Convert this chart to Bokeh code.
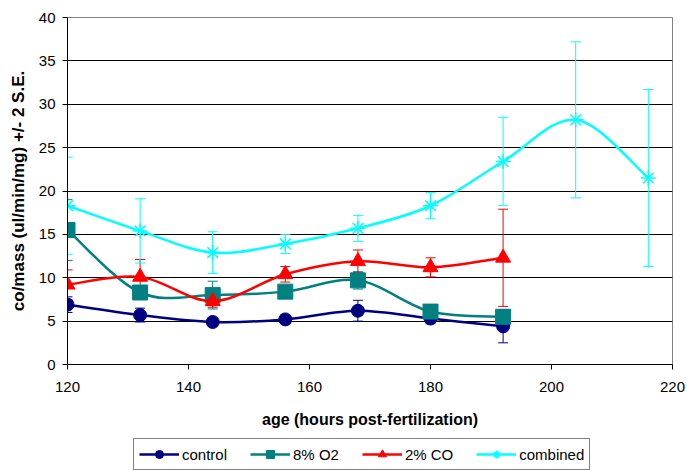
from bokeh.plotting import figure
from bokeh.layouts import column
from bokeh.models import (ColumnDataSource, Whisker, TeeHead, Legend, LegendItem,
                          FixedTicker, Range1d)
from bokeh.embed import file_html
from bokeh.resources import INLINE

# ---- data ----
hours = [120, 132, 144, 156, 168, 180, 192, 204, 216]

control = [6.9, 5.7, 4.9, 5.2, 6.2, 5.3, 4.4]
control_err = [0.9, 0.8, 0.4, 0.5, 1.2, 0.6, 1.9]

o2 = [15.5, 8.3, 8.0, 8.4, 9.7, 6.1, 5.5]
o2_err = [3.5, 0.6, 1.6, 0.6, 1.0, 0.5, 0.5]

co = [9.2, 10.1, 7.3, 10.4, 11.9, 11.2, 12.3]
co_err = [1.7, 2.0, 0.7, 0.9, 1.3, 1.1, 5.6]

combined = [18.3, 15.4, 12.9, 13.9, 15.7, 18.3, 23.4, 28.2, 21.5]
combined_err = [5.6, 3.7, 2.4, 1.1, 1.5, 1.5, 5.1, 9.0, 10.2]

series_names = ["control", "8% O2", "2% CO", "combined"]
series_colors = ["#000080", "#008080", "#FF0000", "#00FFFF"]
series_markers = ["circle", "square", "triangle", "asterisk"]
series_values = [control, o2, co, combined]
series_errs = [control_err, o2_err, co_err, combined_err]

x_ticks = [120, 140, 160, 180, 200, 220]
y_ticks = [0, 5, 10, 15, 20, 25, 30, 35, 40]

FONT = "Liberation Sans"
W = 687

p = figure(width=W, height=438, output_backend="svg", toolbar_location=None,
           x_range=Range1d(120, 220), y_range=Range1d(0, 40),
           min_border_left=67, min_border_right=15, min_border_top=17,
           min_border_bottom=74)

p.background_fill_color = "white"
p.border_fill_color = "white"
p.outline_line_color = "#808080"
p.outline_line_width = 1

p.xgrid.visible = False
p.ygrid.ticker = FixedTicker(ticks=y_ticks)
p.ygrid.grid_line_color = "#000000"
p.ygrid.grid_line_width = 1

p.xaxis.ticker = FixedTicker(ticks=x_ticks)
p.yaxis.ticker = FixedTicker(ticks=y_ticks)
for ax in (p.xaxis, p.yaxis):
    ax.axis_line_color = "black"
    ax.major_tick_line_color = "black"
    ax.major_tick_in = 0
    ax.major_tick_out = 5
    ax.minor_tick_line_color = None
    ax.major_label_text_font = FONT
    ax.major_label_text_font_size = "15px"
    ax.major_label_text_color = "black"
    ax.axis_label_text_font = FONT
    ax.axis_label_text_font_style = "bold"
    ax.axis_label_text_color = "black"

p.xaxis.axis_label = "age (hours post-fertilization)"
p.yaxis.axis_label = "co/mass (ul/min/mg) +/- 2 S.E."
p.xaxis.axis_label_text_font_size = "16px"
p.yaxis.axis_label_text_font_size = "17px"
p.xaxis.major_label_standoff = 12
p.xaxis.axis_label_standoff = 16
p.yaxis.major_label_standoff = 7
p.yaxis.axis_label_standoff = 8


def bezier_source(xs, ys):
    n = len(xs)
    d = dict(x0=[], y0=[], x1=[], y1=[], cx0=[], cy0=[], cx1=[], cy1=[])
    for i in range(n - 1):
        xm, ym = (xs[i - 1], ys[i - 1]) if i > 0 else (xs[i], ys[i])
        xp, yp = (xs[i + 2], ys[i + 2]) if i + 2 < n else (xs[i + 1], ys[i + 1])
        d["x0"].append(xs[i]); d["y0"].append(ys[i])
        d["x1"].append(xs[i + 1]); d["y1"].append(ys[i + 1])
        d["cx0"].append(xs[i] + (xs[i + 1] - xm) / 6.0)
        d["cy0"].append(ys[i] + (ys[i + 1] - ym) / 6.0)
        d["cx1"].append(xs[i + 1] - (xp - xs[i]) / 6.0)
        d["cy1"].append(ys[i + 1] - (yp - ys[i]) / 6.0)
    return ColumnDataSource(d)


# legend-only strip underneath the chart (its swatch renderers sit off-canvas)
lg = figure(width=W, height=33, output_backend="svg", toolbar_location=None,
            x_range=Range1d(0, 1), y_range=Range1d(0, 1),
            min_border=0, x_axis_type=None, y_axis_type=None)
lg.outline_line_color = None
lg.xgrid.visible = False
lg.ygrid.visible = False
lg.border_fill_color = "white"
lg.background_fill_color = "white"

items = []
for name, color, marker, vals, errs in zip(series_names, series_colors, series_markers,
                                          series_values, series_errs):
    xs = hours[:len(vals)]
    p.bezier("x0", "y0", "x1", "y1", "cx0", "cy0", "cx1", "cy1",
             source=bezier_source(xs, vals), line_color=color, line_width=2.5)
    src = ColumnDataSource(dict(x=xs, y=vals,
                                lo=[v - e for v, e in zip(vals, errs)],
                                hi=[v + e for v, e in zip(vals, errs)]))
    if marker == "asterisk":
        p.scatter("x", "y", source=src, marker=marker, size=15,
                  line_color=color, line_width=1.5, fill_color=color)
    else:
        p.scatter("x", "y", source=src, marker=marker,
                  size=15 if marker != "circle" else 13,
                  line_color=color, fill_color=color)
    w = Whisker(source=src, base="x", upper="hi", lower="lo", dimension="height",
                line_color=color, line_width=1,
                upper_head=TeeHead(size=10, line_color=color, line_width=1),
                lower_head=TeeHead(size=10, line_color=color, line_width=1))
    p.add_layout(w)
    lr = lg.line(x=[-5, -4], y=[-5, -5], line_color=color, line_width=2.5)
    if marker == "asterisk":
        mr = lg.scatter(x=[-5], y=[-5], marker="asterisk", line_color=color,
                        line_width=1.5)
    else:
        mr = lg.scatter(x=[-5], y=[-5], marker=marker, line_color=color,
                        fill_color=color)
    items.append(LegendItem(label=name, renderers=[lr, mr]))

legend = Legend(items=items, orientation="horizontal", location=(66, 1),
                label_text_font=FONT, label_text_font_size="15px",
                label_text_color="black", glyph_width=40, glyph_height=20,
                label_standoff=3, spacing=23, padding=5, margin=0,
                border_line_color="black", border_line_width=1,
                background_fill_color="white")
lg.add_layout(legend, "center")

layout = column(p, lg, spacing=0)
open("out.html", "w").write(file_html(layout, INLINE))
